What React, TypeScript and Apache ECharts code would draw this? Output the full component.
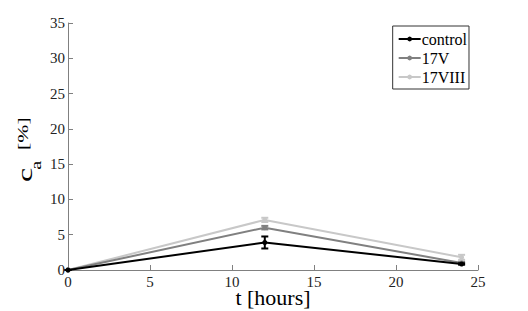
import React, { useEffect, useRef } from "react";
import * as echarts from "echarts";

const hours = [0, 12, 24];
const seriesNames = ["control", "17V", "17VIII"];
const controlVals = [0, 3.9, 0.85];
const controlErr = [0, 0.85, 0.1];
const v17Vals = [0, 6.0, 1.0];
const v17Err = [0, 0.25, 0.15];
const v17VIIIVals = [0, 7.1, 1.8];
const v17VIIIErr = [0, 0.3, 0.35];
const colors = ["#000000", "#808080", "#c8c8c8"];
const xTicks = { min: 0, max: 25, interval: 5 };
const yTicks = { min: 0, max: 35, interval: 5 };

const FONT = "Liberation Serif, serif";

export default function App() {
  const ref = useRef<HTMLDivElement>(null);
  useEffect(() => {
    if (!ref.current) return;
    const chart = echarts.init(ref.current, undefined, { renderer: "svg" });
    const vals = [controlVals, v17Vals, v17VIIIVals];
    const errs = [controlErr, v17Err, v17VIIIErr];
    const lineSeries: any[] = [];
    const errSeries: any[] = [];
    seriesNames.forEach((name, i) => {
      const z = 10 - i * 2;
      lineSeries.push({
        name,
        type: "line",
        data: hours.map((h, k) => [h, vals[i][k]]),
        symbol: "circle",
        symbolSize: 5,
        color: colors[i],
        lineStyle: { color: colors[i], width: 2 },
        itemStyle: { color: colors[i] },
        z,
      });
      errSeries.push({
        type: "custom",
        data: hours.map((h, k) => [h, vals[i][k] - errs[i][k], vals[i][k] + errs[i][k]]),
        renderItem: (params: any, api: any) => {
          const x = api.value(0);
          const lo = api.coord([x, api.value(1)]);
          const hi = api.coord([x, api.value(2)]);
          const cap = 3.5;
          const style = { stroke: colors[i], lineWidth: 2 };
          return {
            type: "group",
            children: [
              { type: "line", shape: { x1: lo[0], y1: lo[1], x2: hi[0], y2: hi[1] }, style },
              { type: "line", shape: { x1: lo[0] - cap, y1: lo[1], x2: lo[0] + cap, y2: lo[1] }, style },
              { type: "line", shape: { x1: hi[0] - cap, y1: hi[1], x2: hi[0] + cap, y2: hi[1] }, style },
            ],
          };
        },
        z: z + 1,
        clip: false,
      });
    });
    chart.setOption({
      animation: false,
      textStyle: { fontFamily: FONT },
      grid: { left: 68, right: 50, top: 23, bottom: 41, containLabel: false, outerBoundsMode: "none" },
      legend: {
        data: seriesNames,
        orient: "vertical",
        right: 59,
        top: 26,
        itemWidth: 22,
        itemHeight: 6,
        itemGap: 3,
        backgroundColor: "#fff",
        borderColor: "#333",
        borderWidth: 1,
        borderRadius: 0,
        padding: [5, 2, 4, 5],
        textStyle: { fontFamily: FONT, fontSize: 16, color: "#000", padding: [0, 0, 0, -4] },
      },
      xAxis: {
        type: "value",
        ...xTicks,
        name: "t [hours]",
        nameLocation: "middle",
        nameGap: 16,
        nameMoveOverlap: false,
        nameTextStyle: { fontFamily: FONT, fontSize: 22, color: "#000" },
        axisLine: { show: true, lineStyle: { color: "#808080", width: 1 } },
        axisTick: { show: true, inside: true, length: 5, lineStyle: { color: "#808080" } },
        axisLabel: { fontFamily: FONT, fontSize: 15, color: "#222", margin: 4 },
        splitLine: { show: false },
      },
      yAxis: {
        type: "value",
        ...yTicks,
        axisLine: { show: true, lineStyle: { color: "#808080", width: 1 } },
        axisTick: { show: true, inside: true, length: 5, lineStyle: { color: "#808080" } },
        axisLabel: { fontFamily: FONT, fontSize: 15, color: "#222", margin: 3 },
        splitLine: { show: false },
      },
      graphic: [
        {
          type: "group",
          x: 0,
          y: 0,
          rotation: Math.PI / 2,
          scaleX: 1.45,
          children: [
            { type: "text", x: -125.5, y: 25, style: { text: "c", fontFamily: FONT, fontSize: 22, fill: "#000", verticalAlign: "middle", align: "left" } },
            { type: "text", x: -117, y: 36, style: { text: "a", fontFamily: FONT, fontSize: 14, fill: "#000", verticalAlign: "middle", align: "left" } },
            { type: "text", x: -103.4, y: 23, style: { text: "[%]", fontFamily: FONT, fontSize: 15, fill: "#000", verticalAlign: "middle", align: "left" } },
          ],
        },
      ],
      series: [...errSeries, ...lineSeries],
    });
    return () => chart.dispose();
  }, []);
  return <div ref={ref} style={{ width: 528, height: 311, margin: "-8px 0 0 -8px" }} />;
}
